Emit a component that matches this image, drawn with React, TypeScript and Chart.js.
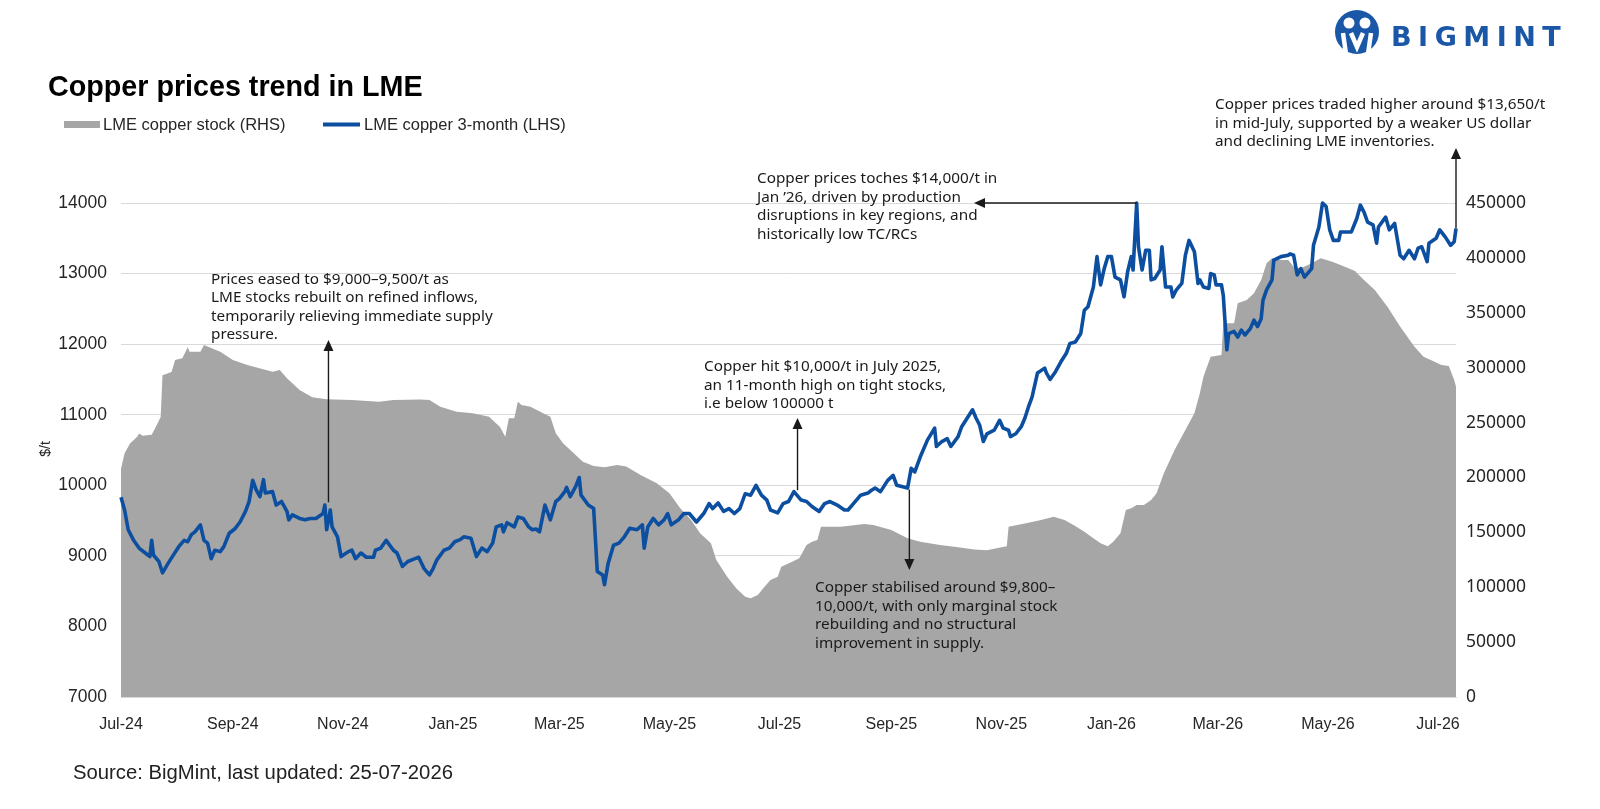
import { useEffect, useRef } from "react";
import { Chart, registerables } from "chart.js";

Chart.register(...registerables);

// x values are days counted from 1 Jul 2024
const monthTickDays = [0, 62, 123, 184, 243, 304, 365, 427, 488, 549, 608, 669, 730];
const monthTickLabels = [
  "Jul-24", "Sep-24", "Nov-24", "Jan-25", "Mar-25", "May-25", "Jul-25",
  "Sep-25", "Nov-25", "Jan-26", "Mar-26", "May-26", "Jul-26",
];

// LME copper 3-month, $/t  [day, price]
const priceLhs: [number, number][] = [
  [0, 9830], [2, 9650], [4, 9370], [7, 9220], [10, 9110], [14, 9030], [16, 8990], [17, 9220],
  [18, 9010], [21, 8920], [23, 8760], [26, 8890], [29, 9010], [32, 9130], [35, 9220], [37, 9200],
  [39, 9300], [41, 9340], [44, 9440], [46, 9220], [48, 9180], [50, 8960], [52, 9080], [55, 9060],
  [57, 9130], [60, 9320], [63, 9380], [66, 9480], [69, 9630], [71, 9770], [73, 10070], [75, 9930],
  [77, 9840], [79, 10080], [80, 9890], [84, 9910], [86, 9720], [89, 9770], [92, 9630], [93, 9510],
  [95, 9580], [99, 9530], [102, 9510], [105, 9530], [108, 9530], [112, 9600], [113, 9720], [114, 9370],
  [116, 9650], [117, 9410], [120, 9270], [122, 8990], [126, 9060], [128, 9080], [130, 8960], [133, 9040],
  [136, 8980], [140, 8980], [141, 9080], [144, 9110], [147, 9220], [151, 9080], [153, 9040], [156, 8850],
  [159, 8920], [163, 8960], [165, 8980], [168, 8820], [171, 8730], [173, 8820], [175, 8940], [179, 9080],
  [182, 9110], [185, 9200], [188, 9230], [190, 9270], [194, 9250], [197, 8990], [200, 9110], [203, 9060],
  [206, 9180], [208, 9410], [211, 9440], [212, 9340], [214, 9470], [218, 9410], [220, 9550], [223, 9530],
  [226, 9410], [228, 9370], [230, 9380], [232, 9340], [235, 9720], [238, 9510], [241, 9770], [243, 9810],
  [246, 9910], [247, 9970], [249, 9840], [252, 9980], [254, 10110], [255, 9860], [259, 9720], [262, 9670],
  [264, 8780], [267, 8730], [268, 8590], [270, 8890], [273, 9150], [276, 9180], [279, 9270], [282, 9390],
  [286, 9370], [289, 9440], [290, 9110], [292, 9410], [295, 9530], [298, 9440], [301, 9510], [303, 9600],
  [305, 9440], [309, 9510], [312, 9600], [315, 9600], [319, 9480], [323, 9600], [326, 9740], [328, 9670],
  [331, 9750], [334, 9630], [337, 9670], [340, 9600], [343, 9670], [346, 9880], [349, 9860], [352, 10000],
  [355, 9860], [358, 9790], [360, 9650], [364, 9610], [367, 9740], [370, 9770], [373, 9910], [377, 9790],
  [380, 9770], [383, 9700], [387, 9630], [390, 9740], [393, 9770], [397, 9720], [401, 9650], [403, 9650],
  [406, 9740], [410, 9860], [414, 9890], [416, 9930], [418, 9960], [421, 9910], [425, 10070], [428, 10140],
  [430, 10000], [436, 9960], [438, 10240], [440, 10190], [443, 10400], [447, 10640], [451, 10810], [452, 10550],
  [455, 10620], [458, 10660], [460, 10550], [464, 10690], [466, 10830], [469, 10950], [472, 11070], [474, 10950],
  [476, 10850], [478, 10620], [480, 10730], [484, 10780], [487, 10920], [489, 10810], [492, 10780], [493, 10690],
  [496, 10730], [499, 10830], [501, 10950], [503, 11110], [505, 11250], [508, 11590], [512, 11660], [513, 11590],
  [515, 11500], [518, 11610], [521, 11750], [524, 11870], [526, 12010], [529, 12030], [532, 12150], [534, 12480],
  [536, 12530], [539, 12810], [541, 13240], [543, 12840], [545, 13070], [547, 13240], [549, 13240], [551, 12950],
  [554, 12910], [556, 12670], [558, 13030], [560, 13240], [561, 13050], [563, 14000], [564, 13380], [566, 13050],
  [568, 13330], [570, 13330], [571, 12910], [573, 12930], [576, 13050], [577, 13380], [579, 12810], [582, 12810],
  [583, 12670], [585, 12770], [588, 12860], [590, 13260], [592, 13470], [595, 13310], [597, 12860], [598, 12910],
  [600, 12810], [603, 12790], [604, 13000], [606, 12980], [607, 12840], [610, 12840], [611, 12690], [613, 11920],
  [614, 12150], [617, 12180], [619, 12100], [621, 12200], [623, 12130], [626, 12220], [628, 12340], [630, 12250],
  [632, 12360], [633, 12620], [635, 12770], [638, 12910], [639, 13190], [643, 13240], [647, 13260], [648, 13280],
  [650, 13260], [652, 12980], [654, 13070], [656, 12950], [660, 13070], [661, 13400], [664, 13660], [666, 14000],
  [668, 13950], [670, 13620], [672, 13470], [675, 13470], [676, 13590], [682, 13590], [685, 13780], [687, 13970],
  [689, 13870], [691, 13730], [694, 13690], [696, 13430], [697, 13660], [701, 13800], [703, 13620], [706, 13710],
  [709, 13260], [711, 13210], [714, 13330], [717, 13210], [719, 13360], [721, 13380], [724, 13170], [725, 13430],
  [729, 13500], [731, 13620], [734, 13520], [737, 13400], [739, 13450], [740, 13640],
];

// LME copper stock, tonnes  [day, stock]
const stockRhs: [number, number][] = [
  [0, 208000], [2, 222000], [5, 231000], [9, 237000], [10, 240000], [12, 238000], [17, 239000], [19, 245000],
  [22, 255000], [23, 293000], [28, 296000], [30, 307000], [34, 308500], [37, 318600], [38, 314600], [44, 314600],
  [46, 320700], [49, 318600], [55, 314600], [62, 307000], [70, 302500], [84, 296300], [88, 297900], [92, 290300],
  [99, 279700], [106, 273000], [114, 271200], [128, 270600], [143, 269000], [151, 270600], [166, 270900], [171, 270600],
  [177, 264500], [186, 259900], [195, 258400], [204, 255400], [210, 246200], [213, 237100], [215, 253900], [218, 253900],
  [220, 269000], [222, 266000], [227, 264500], [234, 258400], [238, 255400], [241, 240200], [245, 231100], [251, 222000],
  [256, 214400], [262, 210400], [268, 209300], [275, 211400], [280, 210000], [288, 202200], [297, 194700], [304, 185600],
  [310, 171900], [316, 161200], [321, 149100], [327, 140000], [330, 124800], [336, 109600], [341, 99000], [346, 91400],
  [349, 89900], [353, 92900], [356, 99000], [360, 106600], [364, 109600], [366, 118700], [372, 123300], [376, 126300],
  [380, 138500], [383, 141500], [386, 143000], [388, 155100], [399, 155100], [412, 157600], [417, 156700], [427, 152100],
  [436, 144500], [443, 141500], [454, 138500], [464, 136300], [473, 134300], [480, 133700], [486, 135700], [491, 137300],
  [492, 155100], [501, 158100], [510, 161200], [517, 164300], [523, 161200], [528, 156700], [534, 150600], [539, 144500],
  [543, 140000], [547, 137300], [550, 141500], [554, 149100], [557, 170400], [560, 171900], [563, 174900], [567, 174900],
  [571, 179500], [574, 185500], [578, 203700], [584, 225000], [589, 240200], [595, 258400], [598, 276600], [600, 291800],
  [604, 310000], [610, 311500], [611, 340400], [617, 340400], [619, 358600], [624, 361700], [628, 367700], [632, 379900],
  [635, 395100], [638, 399600], [643, 398100], [647, 398100], [650, 392000], [654, 390500], [660, 395100], [665, 399600],
  [671, 396600], [676, 393500], [684, 388000], [689, 379900], [695, 370800], [702, 355600], [709, 337400], [717, 319100],
  [722, 310000], [726, 307000], [732, 302500], [736, 301600], [739, 288800], [740, 282700],
];

const TITLE = "Copper prices trend in LME";
const SOURCE = "Source: BigMint, last updated: 25-07-2026";
const STOCK_LABEL = "LME copper stock (RHS)";
const PRICE_LABEL = "LME copper 3-month (LHS)";

// call-outs: anchor is [day, price] on the price line
const notes = [
  {
    lines: [
      "Prices eased to $9,000–9,500/t as",
      "LME stocks rebuilt on refined inflows,",
      "temporarily relieving immediate supply",
      "pressure.",
    ],
    x: 211, y: 279.5, anchor: [115, 9760], tipY: 340,
  },
  {
    lines: [
      "Copper hit $10,000/t in July 2025,",
      "an 11-month high on tight stocks,",
      "i.e below 100000 t",
    ],
    x: 704, y: 367, anchor: [375, 9930], tipY: 418,
  },
  {
    lines: [
      "Copper prices toches $14,000/t in",
      "Jan ’26, driven by production",
      "disruptions in key regions, and",
      "historically low TC/RCs",
    ],
    x: 757, y: 179, anchor: [563, 14000], tipX: 974,
  },
  {
    lines: [
      "Copper stabilised around $9,800–",
      "10,000/t, with only marginal stock",
      "rebuilding and no structural",
      "improvement in supply.",
    ],
    x: 815, y: 588, anchor: [437, 9940], tipY: 570,
  },
  {
    lines: [
      "Copper prices traded higher around $13,650/t",
      "in mid-July, supported by a weaker US dollar",
      "and declining LME inventories.",
    ],
    x: 1215, y: 105, anchor: [740, 13640], tipY: 148,
  },
];

const BLUE = "#0c4e9f";
const GREY = "#a6a6a6";
const GRID = "#d9d9d9";
const INK = "#262626";
const ARIAL = '"Liberation Sans", Arial, sans-serif';
const NOTE_FONT = '"Noto Sans", sans-serif';

function drawArrow(ctx: CanvasRenderingContext2D, x1: number, y1: number, x2: number, y2: number) {
  const a = Math.atan2(y2 - y1, x2 - x1);
  const len = 11;
  const half = 5;
  const c = Math.cos(a);
  const s = Math.sin(a);
  ctx.beginPath();
  ctx.moveTo(x1, y1);
  ctx.lineTo(x2 - c * len, y2 - s * len);
  ctx.stroke();
  ctx.beginPath();
  ctx.moveTo(x2, y2);
  ctx.lineTo(x2 - c * len + s * half, y2 - s * len - c * half);
  ctx.lineTo(x2 - c * len - s * half, y2 - s * len + c * half);
  ctx.closePath();
  ctx.fill();
}

function drawLogo(ctx: CanvasRenderingContext2D) {
  const cx = 1357;
  const cy = 32;
  ctx.fillStyle = "#1a57a7";
  ctx.beginPath();
  ctx.arc(cx, cy, 22, 0, Math.PI * 2);
  ctx.fill();

  ctx.fillStyle = "#fff";
  ctx.beginPath();
  ctx.arc(cx - 8, cy - 9, 5.5, 0, Math.PI * 2);
  ctx.arc(cx + 8, cy - 9, 5.5, 0, Math.PI * 2);
  ctx.fill();

  ctx.strokeStyle = "#fff";
  ctx.lineWidth = 4.5;
  ctx.beginPath();
  ctx.moveTo(cx - 14, cy + 1);
  ctx.lineTo(cx - 11, cy + 22);
  ctx.moveTo(cx + 14, cy + 1);
  ctx.lineTo(cx + 11, cy + 22);
  ctx.moveTo(cx - 6, cy + 1);
  ctx.lineTo(cx, cy + 15);
  ctx.lineTo(cx + 6, cy + 1);
  ctx.stroke();

  ctx.fillStyle = "#1a57a7";
  ctx.font = 'bold 27px "DejaVu Sans", sans-serif';
  (ctx as any).letterSpacing = "6.5px";
  ctx.textAlign = "left";
  ctx.textBaseline = "alphabetic";
  ctx.fillText("BIGMINT", 1391, 46);
  (ctx as any).letterSpacing = "0px";
}

const overlay = {
  id: "overlay",
  afterDraw(chart: Chart) {
    const { ctx } = chart;
    const xs = chart.scales.x;
    const ys = chart.scales.y;
    ctx.save();

    // title
    ctx.fillStyle = "#000";
    ctx.font = `bold 28.7px ${ARIAL}`;
    ctx.textAlign = "left";
    ctx.textBaseline = "alphabetic";
    ctx.fillText(TITLE, 48, 96);

    // legend
    ctx.fillStyle = GREY;
    ctx.fillRect(64, 121, 36, 7);
    ctx.strokeStyle = BLUE;
    ctx.lineWidth = 4;
    ctx.beginPath();
    ctx.moveTo(323, 124.5);
    ctx.lineTo(360, 124.5);
    ctx.stroke();
    ctx.fillStyle = INK;
    ctx.font = `16.5px ${ARIAL}`;
    ctx.textBaseline = "middle";
    ctx.fillText(STOCK_LABEL, 103, 125);
    ctx.fillText(PRICE_LABEL, 364, 125);

    // y-axis title
    ctx.save();
    ctx.translate(46, 449);
    ctx.rotate(-Math.PI / 2);
    ctx.textAlign = "center";
    ctx.font = `14px ${ARIAL}`;
    ctx.fillText("$/t", 0, 0);
    ctx.restore();

    // call-outs
    ctx.strokeStyle = "#1a1a1a";
    ctx.fillStyle = "#1a1a1a";
    ctx.lineWidth = 1.4;
    for (const n of notes) {
      const ax = xs.getPixelForValue(n.anchor[0]);
      const ay = ys.getPixelForValue(n.anchor[1]);
      if (n.tipX !== undefined) drawArrow(ctx, ax, ay, n.tipX, ay);
      else drawArrow(ctx, ax, ay, ax, n.tipY as number);
    }
    ctx.font = `15.3px ${NOTE_FONT}`;
    ctx.textBaseline = "middle";
    ctx.textAlign = "left";
    for (const n of notes) {
      n.lines.forEach((line, i) => ctx.fillText(line, n.x, n.y + i * 18.4));
    }

    // source
    ctx.fillStyle = "#222";
    ctx.font = `20.3px ${ARIAL}`;
    ctx.fillText(SOURCE, 73, 773);

    drawLogo(ctx);
    ctx.restore();
  },
};

export default function App() {
  const canvasRef = useRef<HTMLCanvasElement | null>(null);

  useEffect(() => {
    const canvas = canvasRef.current;
    if (!canvas) return;

    const chart = new Chart(canvas, {
      type: "line",
      data: {
        datasets: [
          {
            label: PRICE_LABEL,
            data: priceLhs.map(([d, v]) => ({ x: d, y: v })),
            yAxisID: "y",
            borderColor: BLUE,
            borderWidth: 3.6,
            borderJoinStyle: "round",
            pointRadius: 0,
            tension: 0,
            fill: false,
            order: 1,
            clip: 8,
          },
          {
            label: STOCK_LABEL,
            data: stockRhs.map(([d, v]) => ({ x: d, y: v })),
            yAxisID: "y1",
            borderColor: "rgba(0,0,0,0)",
            borderWidth: 0,
            backgroundColor: GREY,
            fill: "origin",
            pointRadius: 0,
            tension: 0,
            order: 2,
          },
        ],
      },
      options: {
        responsive: true,
        maintainAspectRatio: false,
        animation: false,
        events: [],
        layout: { padding: { top: 203, left: 0, right: 0, bottom: 0 } },
        plugins: {
          legend: { display: false },
          tooltip: { enabled: false },
          title: { display: false },
        },
        scales: {
          x: {
            type: "linear",
            min: 0,
            max: 740,
            afterBuildTicks: (s) => {
              s.ticks = monthTickDays.map((v) => ({ value: v }));
            },
            afterFit: (s) => {
              s.height = 112;
            },
            grid: { display: false },
            border: { display: true, color: GRID },
            ticks: {
              autoSkip: false,
              maxRotation: 0,
              padding: 10,
              color: INK,
              font: { family: ARIAL, size: 16 },
              callback: (v) => {
                const i = monthTickDays.indexOf(Number(v));
                return i >= 0 ? monthTickLabels[i] : "";
              },
            },
          },
          y: {
            position: "left",
            min: 7000,
            max: 14000,
            afterFit: (s) => {
              s.width = 121;
            },
            grid: { color: GRID, lineWidth: 1, drawTicks: false },
            border: { display: false },
            ticks: {
              stepSize: 1000,
              padding: 14,
              color: INK,
              font: { family: ARIAL, size: 17.5 },
              callback: (v) => String(v),
            },
          },
          y1: {
            position: "right",
            min: 0,
            max: 450000,
            afterFit: (s) => {
              s.width = 144;
            },
            grid: { display: false, drawTicks: false },
            border: { display: false },
            ticks: {
              stepSize: 50000,
              padding: 10,
              color: INK,
              font: { family: NOTE_FONT, size: 17.5 },
              callback: (v) => String(v),
            },
          },
        },
      },
      plugins: [overlay],
    });

    return () => {
      chart.destroy();
    };
  }, []);

  return (
    <div
      style={{
        position: "fixed",
        left: 0,
        top: 0,
        width: 1600,
        height: 809,
        background: "#fff",
      }}
    >
      <canvas ref={canvasRef} />
    </div>
  );
}
